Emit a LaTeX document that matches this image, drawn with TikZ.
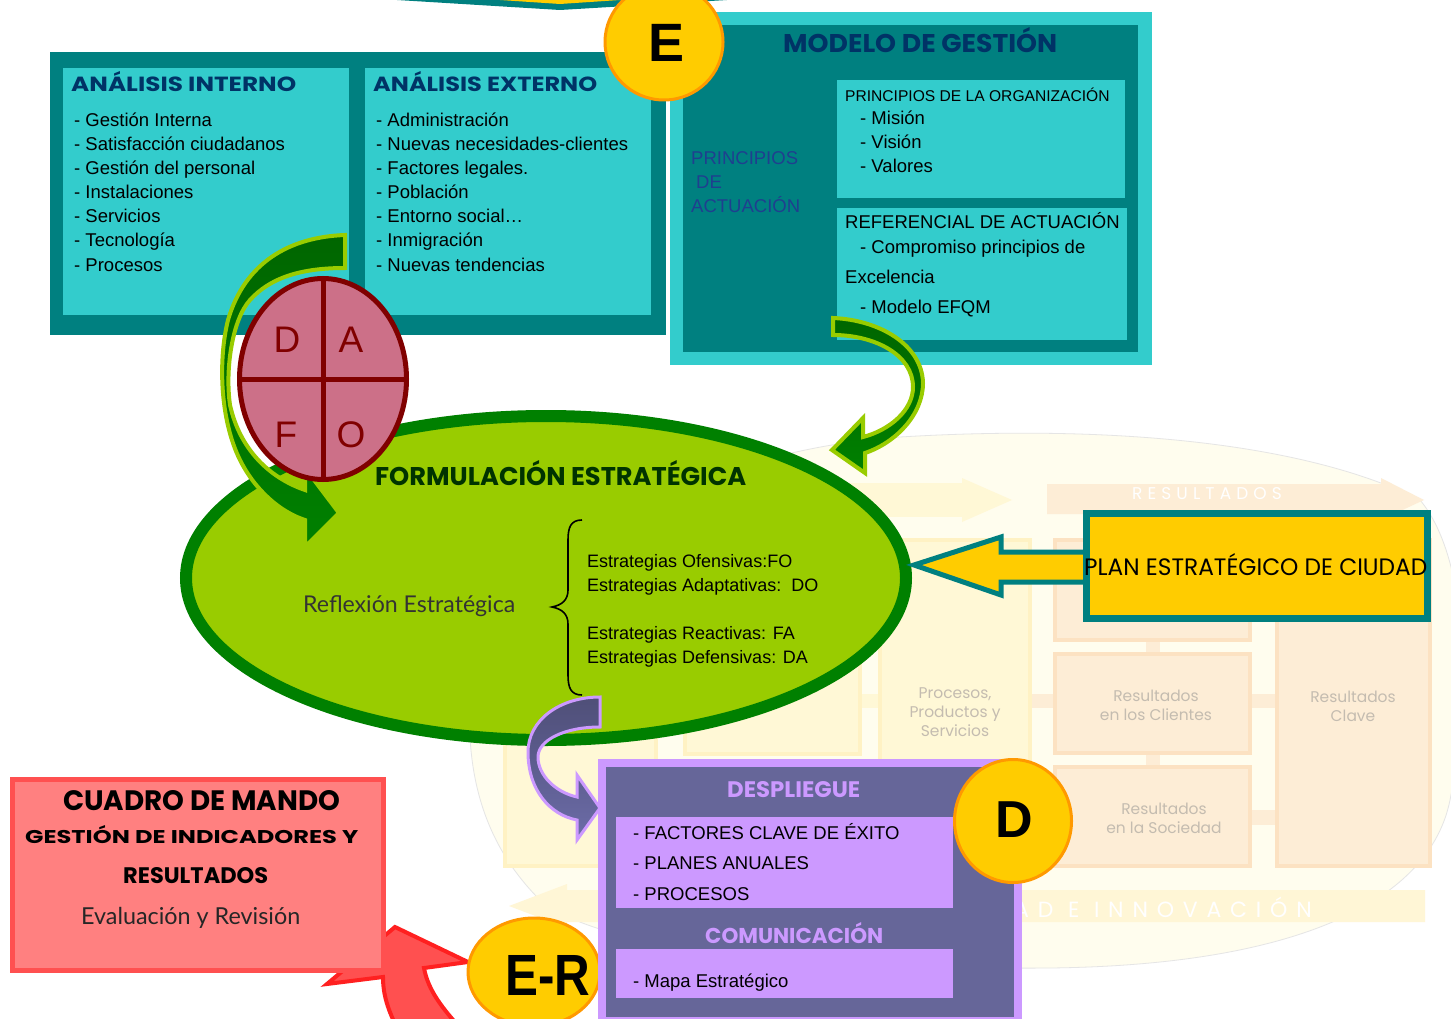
\documentclass[tikz,border=0pt]{standalone}
\usepackage{fontspec}
\usepackage{graphicx}
\setmainfont{Liberation Sans}
\newfontfamily\comicf{Poppins}
\newfontfamily\thinf{Lato}

\definecolor{cTeal}{HTML}{008080}
\definecolor{cCyan}{HTML}{33CCCC}
\definecolor{cNavy}{HTML}{003366}
\definecolor{cBlueText}{HTML}{1F3F8F}
\definecolor{cLime}{HTML}{99CC00}
\definecolor{cGreen}{HTML}{008000}
\definecolor{cDkGreen}{HTML}{006600}
\definecolor{cTextGreen}{HTML}{003300}
\definecolor{cPink}{HTML}{CC7088}
\definecolor{cMaroon}{HTML}{800000}
\definecolor{cYellow}{HTML}{FFCC00}
\definecolor{cOrange}{HTML}{FF9900}
\definecolor{cLilac}{HTML}{CC99FF}
\definecolor{cSlate}{HTML}{666699}
\definecolor{cPurTop}{HTML}{4F4F78}
\definecolor{cPurBot}{HTML}{6C6CA8}
\definecolor{cRedOut}{HTML}{FF5050}
\definecolor{cRedIn}{HTML}{FF8080}
\definecolor{cRedLine}{HTML}{FF2020}
\definecolor{cCream}{HTML}{FFFDEE}
\definecolor{cPaleY}{HTML}{FFF8D6}
\definecolor{cPaleYB}{HTML}{FFF2C4}
\definecolor{cPeach}{HTML}{FDEDD6}
\definecolor{cPeachB}{HTML}{FCE2C2}
\definecolor{cBand}{HTML}{FFF6D6}
\definecolor{cFaintTxt}{HTML}{C4BCB0}

\newcommand\fitbox[3]{\resizebox{#1pt}{#2pt}{#3}}

\begin{document}
\begin{tikzpicture}[x=1pt,y=-1pt,
  lst/.style={anchor=base west,inner sep=0pt,font=\fontsize{18.5}{22}\selectfont},
  strat/.style={anchor=base west,inner sep=0pt,font=\fontsize{18}{22}\selectfont},
  head/.style={anchor=base west,inner sep=0pt,font=\comicf\bfseries},
  faint/.style={align=center,inner sep=0pt,font=\comicf\fontsize{15.5}{19}\selectfont,text=cFaintTxt},
  ybox/.style={fill=cPaleY,draw=cPaleYB,line width=4pt},
  pbox/.style={fill=cPeach,draw=cPeachB,line width=4pt},
  badge/.style={fill=cYellow,draw=cOrange,line width=3pt},
  greenarrow/.style={top color=cDkGreen,bottom color=cGreen,draw=cLime,line width=4pt,line join=miter},
  letter/.style={anchor=base,inner sep=0pt}]
\useasboundingbox (0,0) rectangle (1451,1019);
\clip (0,0) rectangle (1451,1019);
\fill[white] (0,0) rectangle (1451,1019);

% ---------- faint EFQM background ----------
\filldraw[fill=cCream,draw=black!10,line width=0.8pt] (470,700) .. controls (480,560) and (700,450) .. (900,437) .. controls (1100,425) and (1300,440) .. (1420,500) .. controls (1470,560) and (1470,700) .. (1450,800) .. controls (1430,900) and (1300,965) .. (1050,968) .. controls (800,970) and (600,950) .. (540,900) .. controls (500,860) and (465,800) .. (470,700) -- cycle;
\fill[cPaleY] (700,483) rectangle (962,517);
\fill[cPaleY] (962,478) -- (1012,500) -- (962,522) -- cycle;
\fill[cPeach] (1047,484) -- (1381,484) -- (1381,478) -- (1424,500) -- (1381,520) -- (1381,514) -- (1047,514) -- cycle;
\node[font=\comicf\fontsize{17}{18}\selectfont,text=white,inner sep=0pt] (res) at (1207,494) {\addfontfeatures{LetterSpace=30}RESULTADOS};
\fill[cBand] (509,906) -- (567,884) -- (567,890) -- (1425,890) -- (1425,922) -- (567,922) -- (567,928) -- cycle;
\node[font=\comicf\fontsize{22}{24}\selectfont,text=white,inner sep=0pt,anchor=base west] (inno) at (1014,917) {\addfontfeatures{LetterSpace=40}AD E INNOVACIÓN};

\draw[ybox] (505,590) rectangle (656,866);
\draw[ybox] (685,540) rectangle (860,640);
\draw[ybox] (685,655) rectangle (860,754);
\draw[ybox] (685,770) rectangle (860,866);
\draw[ybox] (880,540) rectangle (1030,866);
\draw[pbox] (1055,540) rectangle (1250,640);
\draw[pbox] (1055,654) rectangle (1250,753);
\draw[pbox] (1055,767) rectangle (1250,866);
\draw[pbox] (1277,540) rectangle (1430,866);
\fill[cPaleY] (658,694) rectangle (683,708);
\fill[cPaleY] (862,694) rectangle (878,708);
\fill[cPeach] (1032,694) rectangle (1053,708);
\fill[cPeach] (1146,642) rectangle (1160,652);
\fill[cPeach] (1146,755) rectangle (1160,765);
\fill[cPeach] (1252,694) rectangle (1275,708);
\fill[cPeach] (1252,810) rectangle (1275,825);
\node[faint] (pps) at (955,712) {Procesos,\\Productos y\\Servicios};
\node[faint] (rc) at (1156,705) {Resultados\\en los Clientes};
\node[faint] (rso) at (1164,818) {Resultados\\en la Sociedad};
\node[faint] (rcl) at (1353,706) {Resultados\\Clave};

% ---------- top arrow ----------
\fill[cTeal] (397,0) -- (560,10) -- (727,0) -- cycle;
\fill[cYellow] (500,0) -- (560,4) -- (620,0) -- cycle;

% ---------- analysis box ----------
\fill[cTeal] (50,52) rectangle (666,335);
\fill[cCyan] (63,68) rectangle (349,315);
\fill[cCyan] (365,68) rectangle (651,315);
\node[head,text=cNavy] (ai) at (71,92) {\fitbox{225}{20}{ANÁLISIS INTERNO}};
\node[head,text=cNavy] (ae) at (373,92) {\fitbox{224}{20}{ANÁLISIS EXTERNO}};
\foreach \itm [count=\i] in {Gestión Interna,Satisfacción ciudadanos,Gestión del personal,Instalaciones,Servicios,Tecnología,Procesos}
  \node[lst] (li\i) at (74,103+24*\i) {- \itm};
\foreach \itm [count=\i] in {Administración,Nuevas necesidades-clientes,Factores legales.,Población,Entorno social…,Inmigración,Nuevas tendencias}
  \node[lst] (le\i) at (376,103+24*\i) {- \itm};

% ---------- model box ----------
\fill[cCyan] (670,12) rectangle (1152,365);
\fill[cTeal] (683,25) rectangle (1138,352);
\fill[cCyan] (837,80) rectangle (1125,198);
\fill[cCyan] (837,208) rectangle (1127,340);
\node[head,text=cNavy] (mg) at (783,53) {\fitbox{274}{25}{MODELO DE GESTIÓN}};
\node[lst,text=cBlueText] (pa1) at (691,165) {PRINCIPIOS};
\node[lst,text=cBlueText] (pa2) at (696,189) {DE};
\node[lst,text=cBlueText] (pa3) at (691,213) {ACTUACIÓN};
\node[lst,font=\fontsize{15.6}{18}\selectfont] (po) at (845,102) {PRINCIPIOS DE LA ORGANIZACIÓN};
\node[lst] (po1) at (860,125) {- Misión};
\node[lst] (po2) at (860,149) {- Visión};
\node[lst] (po3) at (860,173) {- Valores};
\node[lst] (ra) at (845,229) {REFERENCIAL DE ACTUACIÓN};
\node[lst] (ra1) at (860,253) {- Compromiso principios de};
\node[lst] (ra2) at (845,283) {Excelencia};
\node[lst] (ra3) at (860,313) {- Modelo EFQM};

% ---------- strategic formulation ellipse ----------
\draw[fill=cLime,draw=cGreen,line width=12pt] (546,578) ellipse [x radius=360pt,y radius=162pt];
\node[head,text=cTextGreen] (fe) at (375,485) {\fitbox{371}{25}{FORMULACIÓN ESTRATÉGICA}};
\node[anchor=base west,inner sep=0pt,font=\thinf,text=black!80] (re) at (303,612) {\resizebox{212pt}{!}{Reflexión Estratégica}};
\draw[line width=1.6pt] (582,520) .. controls (571,520) and (568,527) .. (568,540) -- (568,590) .. controls (568,600) and (562,605) .. (552,607) .. controls (562,609) and (568,614) .. (568,624) -- (568,675) .. controls (568,688) and (571,695) .. (582,695);
\node[strat] (s1) at (587,567) {Estrategias Ofensivas:FO};
\node[strat] (s2) at (587,591) {Estrategias Adaptativas:\ \ DO};
\node[strat] (s3) at (587,639) {Estrategias Reactivas: FA};
\node[strat] (s4) at (587,663) {Estrategias Defensivas: DA};

% ---------- green arrow from model ----------
\shadedraw[greenarrow] (833,318) .. controls (880,320) and (922,345) .. (923,383) .. controls (923,415) and (895,443) .. (865,453) -- (865,473) -- (832,450) -- (863,418) -- (863,437) .. controls (890,430) and (913,410) .. (913,387) .. controls (913,355) and (875,335) .. (833,335) -- cycle;

% ---------- green arrow around DAFO ----------
\shadedraw[greenarrow] (345,235) .. controls (290,237) and (245,262) .. (228,320) .. controls (218,360) and (220,420) .. (240,460) .. controls (255,490) and (280,512) .. (305,520) -- (305,547) -- (339,513) -- (305,468) -- (305,490) .. controls (270,478) and (240,450) .. (230,405) .. controls (225,370) and (232,320) .. (250,300) .. controls (270,278) and (300,268) .. (345,268) -- cycle;

% ---------- DAFO ----------
\draw[fill=cPink,draw=cMaroon,line width=5pt] (323,379) ellipse [x radius=83.5pt,y radius=100.5pt];
\draw[cMaroon,line width=5pt] (323,279) -- (323,479);
\draw[cMaroon,line width=5pt] (240,379) -- (406,379);
\node[letter,font=\fontsize{37}{40}\selectfont,text=cMaroon] (dD) at (287,352) {D};
\node[letter,font=\fontsize{37}{40}\selectfont,text=cMaroon] (dA) at (351,352) {A};
\node[letter,font=\fontsize{37}{40}\selectfont,text=cMaroon] (dF) at (286,447) {F};
\node[letter,font=\fontsize{37}{40}\selectfont,text=cMaroon] (dO) at (351,447) {O};

% ---------- E badge ----------
\draw[badge] (664,42) ellipse [x radius=59pt,y radius=58pt];
\node[letter,font=\bfseries\fontsize{54}{54}\selectfont] (eE) at (667,62) {E};

% ---------- plan estrategico ----------
\draw[fill=cYellow,draw=cTeal,line width=5pt,line join=miter] (914,565) -- (1001,537) -- (1001,552) -- (1090,552) -- (1090,582) -- (1001,582) -- (1001,595) -- cycle;
\draw[fill=cYellow,draw=cTeal,line width=7pt] (1086,513) rectangle (1427,618);
\node[anchor=base west,inner sep=0pt,font=\comicf] (pl) at (1084,575) {\fitbox{343}{22}{PLAN ESTRATÉGICO DE CIUDAD}};

% ---------- purple arrow ----------
\shadedraw[top color=cPurTop,bottom color=cPurBot,draw=cLilac,line width=3pt,line join=miter] (600,697) .. controls (560,697) and (528,720) .. (528,752) .. controls (528,790) and (550,815) .. (577,820) -- (577,840) -- (600,808) -- (577,775) -- (577,797) .. controls (555,792) and (538,775) .. (538,757) .. controls (538,740) and (565,727) .. (600,727) -- cycle;

% ---------- red arrow, cuadro de mando ----------
\draw[fill=cRedOut,draw=cRedLine,line width=4pt,line join=miter] (395,927) -- (468,962) -- (424,968) .. controls (428,990) and (442,1008) .. (462,1030) -- (398,1030) .. controls (388,1010) and (383,995) .. (383,977) -- (327,984) -- cycle;
\draw[fill=cRedIn,draw=cRedOut,line width=5pt] (12.5,779.5) rectangle (383.5,970.5);
\node[head] (cm) at (63,810) {\fitbox{277}{20}{CUADRO DE MANDO}};
\node[head] (gi) at (25,843) {\fitbox{333}{18}{GESTIÓN DE INDICADORES Y}};
\node[head] (rs) at (123,883) {\fitbox{145}{16}{RESULTADOS}};
\node[anchor=base west,inner sep=0pt,font=\thinf,text=black!85] (ev) at (81,924) {\resizebox{219pt}{!}{Evaluación y Revisión}};

% ---------- E-R badge ----------
\draw[badge] (534,972) ellipse [x radius=66pt,y radius=54pt];
\node[letter,font=\bfseries] (er) at (548,995) {\fitbox{85}{40}{E-R}};

% ---------- despliegue ----------
\fill[cLilac] (598,759) rectangle (1022,1019);
\fill[cSlate] (606,767) rectangle (1014,1017);
\node[head,text=cLilac] (dp) at (727,797) {\fitbox{133}{16}{DESPLIEGUE}};
\fill[cLilac] (616,817) rectangle (953,908);
\node[lst] (d1) at (633,839) {- FACTORES CLAVE DE ÉXITO};
\node[lst] (d2) at (633,869) {- PLANES ANUALES};
\node[lst] (d3) at (633,900) {- PROCESOS};
\node[head,text=cLilac] (cu) at (705,943) {\fitbox{178}{21}{COMUNICACIÓN}};
\fill[cLilac] (616,949) rectangle (953,998);
\node[lst] (mp) at (633,987) {- Mapa Estratégico};

% ---------- D badge ----------
\draw[badge] (1013,821) ellipse [x radius=58.5pt,y radius=61.5pt];
\node[letter,font=\bfseries\fontsize{52}{52}\selectfont] (dd) at (1014,837) {D};
\end{tikzpicture}
\end{document}
